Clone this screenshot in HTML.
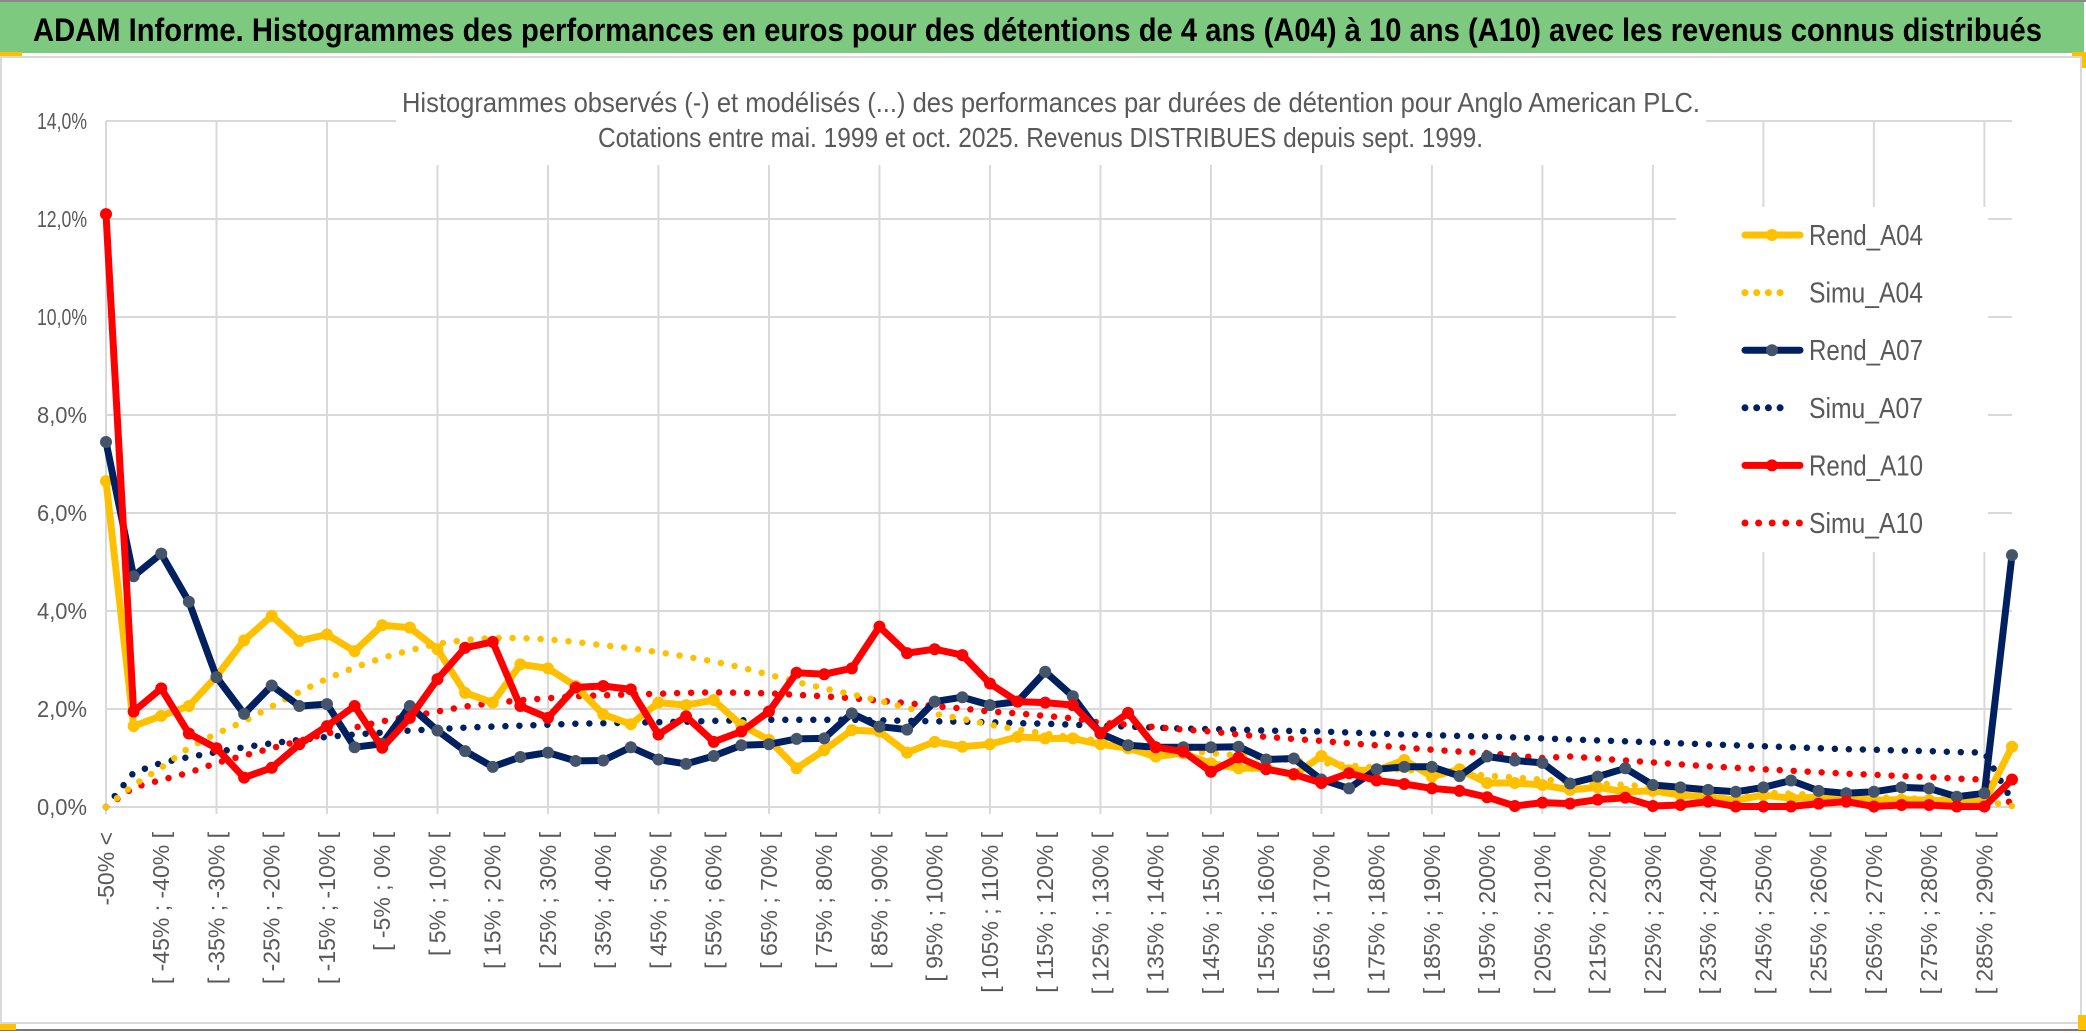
<!DOCTYPE html>
<html><head><meta charset="utf-8">
<style>
html,body{margin:0;padding:0;background:#fff;}
svg{display:block;font-family:"Liberation Sans",sans-serif;}
</style></head>
<body>
<svg id="chart" width="2086" height="1033" viewBox="0 0 2086 1033" xmlns="http://www.w3.org/2000/svg">
  <rect x="0" y="0" width="2086" height="1033" fill="#fff"/>
  <rect x="0" y="2" width="2084" height="51" fill="#7DC97F"/>
  <line x1="0" y1="1" x2="2086" y2="1" stroke="#8a8a8a" stroke-width="2"/>
  <rect x="0" y="52" width="22" height="4" fill="#FFC000"/>
  <rect x="2072" y="52" width="14" height="16" fill="#FFC000"/>
  <text x="33" y="41" font-size="32" font-weight="bold" fill="#000" textLength="2009" lengthAdjust="spacingAndGlyphs">ADAM Informe. Histogrammes des performances en euros pour des détentions de 4 ans (A04) à 10 ans (A10) avec les revenus connus distribués</text>
  <rect x="1" y="57" width="2080" height="966" fill="#fff" stroke="#d9d9d9" stroke-width="2"/>
  <line x1="0" y1="1030" x2="2086" y2="1030" stroke="#777" stroke-width="2"/>
  <rect x="0" y="1024" width="16" height="6" fill="#FFC000"/>
  <rect x="2078" y="1015" width="8" height="15" fill="#FFC000"/>
  <g id="grid"></g>
  <rect x="396" y="70" width="1310" height="95" fill="#fff"/>
  <text x="402" y="112" font-size="28" fill="#595959" textLength="1298" lengthAdjust="spacingAndGlyphs">Histogrammes observés (-) et modélisés (...) des performances par durées de détention pour Anglo American PLC.</text>
  <text x="598" y="147" font-size="28" fill="#595959" textLength="885" lengthAdjust="spacingAndGlyphs">Cotations entre mai. 1999 et oct. 2025. Revenus DISTRIBUES depuis sept. 1999.</text>
  <rect x="1676" y="207" width="312" height="345" fill="#fff"/>
  <g id="yaxis"></g>
  <g id="xaxis"></g>
  <g id="series"></g>
  <g id="legend"></g>
</svg>
<script>
// ---- data ----
const categoryStarts = [];
const rendA04 = [6.65,1.65,1.86,2.06,2.67,3.40,3.90,3.39,3.52,3.18,3.71,3.66,3.22,2.33,2.13,2.91,2.83,2.47,1.89,1.69,2.13,2.08,2.18,1.67,1.37,0.79,1.16,1.57,1.54,1.11,1.33,1.23,1.28,1.43,1.40,1.40,1.28,1.20,1.03,1.10,0.89,0.79,0.79,0.65,1.04,0.75,0.75,0.96,0.62,0.77,0.49,0.49,0.45,0.35,0.40,0.31,0.33,0.24,0.21,0.14,0.24,0.18,0.20,0.18,0.14,0.15,0.14,0.12,0.11,1.23];
const rendA07 = [7.45,4.71,5.17,4.19,2.65,1.90,2.48,2.06,2.10,1.22,1.29,2.06,1.56,1.14,0.82,1.02,1.11,0.94,0.95,1.22,0.97,0.88,1.04,1.26,1.28,1.39,1.40,1.91,1.64,1.58,2.15,2.24,2.08,2.15,2.76,2.26,1.50,1.26,1.22,1.22,1.22,1.23,0.97,0.99,0.56,0.38,0.77,0.82,0.82,0.63,1.03,0.95,0.90,0.48,0.62,0.79,0.45,0.40,0.35,0.31,0.40,0.54,0.33,0.28,0.31,0.40,0.38,0.21,0.28,5.14];
const rendA10 = [12.1,1.95,2.42,1.50,1.20,0.60,0.80,1.28,1.65,2.06,1.21,1.82,2.61,3.25,3.37,2.06,1.82,2.44,2.47,2.40,1.48,1.85,1.33,1.54,1.95,2.74,2.71,2.83,3.68,3.14,3.22,3.10,2.52,2.15,2.13,2.08,1.51,1.92,1.22,1.13,0.72,1.01,0.77,0.67,0.49,0.69,0.54,0.47,0.38,0.33,0.20,0.02,0.09,0.07,0.15,0.19,0.02,0.04,0.11,0.01,0.01,0.01,0.07,0.11,0.01,0.04,0.04,0.01,0.01,0.56];
const simuA04 = [0,0.45,0.80,1.21,1.50,1.75,2.05,2.35,2.62,2.85,3.04,3.20,3.33,3.41,3.45,3.45,3.42,3.37,3.30,3.24,3.16,3.07,2.97,2.85,2.70,2.55,2.42,2.30,2.17,2.02,1.90,1.80,1.68,1.58,1.50,1.42,1.35,1.28,1.22,1.16,1.10,1.05,1.00,0.95,0.90,0.85,0.80,0.76,0.72,0.68,0.64,0.60,0.56,0.52,0.48,0.45,0.42,0.38,0.35,0.32,0.30,0.27,0.25,0.22,0.20,0.18,0.16,0.14,0.12,0.02];
const simuA07 = [0,0.70,0.90,1.02,1.12,1.22,1.30,1.37,1.43,1.48,1.52,1.56,1.59,1.62,1.64,1.66,1.68,1.70,1.71,1.72,1.73,1.74,1.76,1.77,1.78,1.78,1.78,1.78,1.77,1.76,1.75,1.74,1.73,1.71,1.70,1.68,1.66,1.64,1.62,1.60,1.59,1.58,1.56,1.55,1.54,1.52,1.50,1.48,1.47,1.45,1.44,1.42,1.40,1.38,1.36,1.34,1.32,1.30,1.28,1.26,1.24,1.22,1.20,1.18,1.17,1.15,1.14,1.12,1.11,0.13];
const simuA10 = [0,0.40,0.55,0.70,0.90,1.05,1.20,1.35,1.50,1.62,1.75,1.85,1.95,2.05,2.12,2.18,2.22,2.26,2.28,2.30,2.31,2.33,2.34,2.33,2.32,2.29,2.26,2.22,2.17,2.12,2.06,2.01,1.95,1.91,1.86,1.81,1.72,1.68,1.63,1.58,1.54,1.48,1.43,1.39,1.35,1.30,1.26,1.21,1.17,1.13,1.10,1.05,1.00,1.03,0.99,0.95,0.91,0.87,0.83,0.80,0.77,0.74,0.71,0.68,0.66,0.63,0.61,0.58,0.56,0.05];
const yTicks = [0,2,4,6,8,10,12,14];
const yTickLabels = ["0,0%","2,0%","4,0%","6,0%","8,0%","10,0%","12,0%","14,0%"];
for (let k = 0; k < 70; k++) categoryStarts.push(k === 0 ? null : -55 + 5*k);

// ---- axes ----
const NS = "http://www.w3.org/2000/svg";
const X0 = 106, X1 = 2012, Y0 = 807, YTOP = 121;
const nCat = rendA04.length;
function xPos(i){ return X0 + i*(X1-X0)/(nCat-1); }
function yPos(v){ return Y0 - v*(Y0-YTOP)/14; }
function mk(tag, attrs, parent){ const e = document.createElementNS(NS, tag); for (const k in attrs) e.setAttribute(k, attrs[k]); parent.appendChild(e); return e; }

const grid = document.getElementById('grid');
yTicks.forEach((t, j) => {
  const l = mk('line', {x1:X0, x2:X1, y1:yPos(t), y2:yPos(t), stroke:'#d9d9d9', 'stroke-width':2}, grid);
  
  
});
for (let i = 0; i < nCat; i += 4) {
  const l = mk('line', {x1:xPos(i), x2:xPos(i), y1:YTOP, y2:Y0+7, stroke:'#d9d9d9', 'stroke-width':2}, grid);
  
  
}

const yaxis = document.getElementById('yaxis');
yTicks.forEach((t, j) => {
  const tx = mk('text', {x:87, y:yPos(t)+8, 'font-size':23, fill:'#595959', 'text-anchor':'end', textLength:(yTickLabels[j].length>5?60:50), lengthAdjust:'spacingAndGlyphs'}, yaxis);
  tx.textContent = yTickLabels[j];
  
  
});

const xaxis = document.getElementById('xaxis');
for (let i = 0; i < nCat - 1; i += 2) {
  const s = categoryStarts[i];
  const label = s === null ? "-50% <" : "[ " + s + "% ; " + (s+5) + "% [";
  const x = xPos(i) + 8, y = 832;
  const tx = mk('text', {x:x, y:y, 'font-size':23, fill:'#595959', 'text-anchor':'end', transform:'rotate(-90 '+x+' '+y+')'}, xaxis);
  tx.textContent = label;
  
  
}

// ---- series ----
const series = document.getElementById('series');
function pts(arr){ return arr.map((v,i)=>xPos(i).toFixed(1)+','+yPos(v).toFixed(1)).join(' '); }
function dotted(arr, color, name){
  const p = mk('polyline', {points:pts(arr), fill:'none', stroke:color, 'stroke-width':6.5, 'stroke-linecap':'round', 'stroke-dasharray':'0 14'}, series);
  
  
}
function solid(arr, color, mcolor, name){
  const p = mk('polyline', {points:pts(arr), fill:'none', stroke:color, 'stroke-width':7, 'stroke-linejoin':'round'}, series);
  
  
  arr.forEach((v,i)=>{
    const c = mk('circle', {cx:xPos(i), cy:yPos(v), r:6, fill:mcolor}, series);
    
    
  });
}
dotted(simuA07, '#002060', 'simu-a07-line');
dotted(simuA10, '#FF0000', 'simu-a10-line');
dotted(simuA04, '#FFC000', 'simu-a04-line');
solid(rendA04, '#FFC000', '#FFC000', 'rend-a04-line');
solid(rendA07, '#002060', '#44546A', 'rend-a07-line');
solid(rendA10, '#FF0000', '#FF0000', 'rend-a10-line');

// ---- legend ----
const legend = document.getElementById('legend');
const legNames = ["Rend_A04","Simu_A04","Rend_A07","Simu_A07","Rend_A10","Simu_A10"];
const legColors = ["#FFC000","#FFC000","#002060","#002060","#FF0000","#FF0000"];
const legMarkers = ["#FFC000",null,"#44546A",null,"#FF0000",null];
legNames.forEach((n, k) => {
  const y = 235 + k*57.6;
  const g = mk('g', {}, legend);
  
  
  if (legMarkers[k]) {
    mk('line', {x1:1745, x2:1800, y1:y, y2:y, stroke:legColors[k], 'stroke-width':7, 'stroke-linecap':'round'}, g);
    mk('circle', {cx:1772, cy:y, r:6, fill:legMarkers[k]}, g);
  } else {
    const nd = k === 5 ? 5 : 4;
    for (let d = 0; d < nd; d++) mk('circle', {cx:1745 + d*(k===5?13.6:11.7), cy:y, r:3.5, fill:legColors[k]}, g);
  }
  const t = mk('text', {x:1809, y:y+10, 'font-size':29, fill:'#595959', textLength:114, lengthAdjust:'spacingAndGlyphs'}, g);
  t.textContent = n;
});
</script>
</body></html>
